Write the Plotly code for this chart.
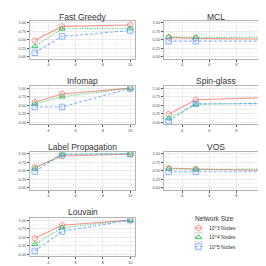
import plotly.graph_objects as go

W = H = 266
x_vals = [3, 5, 10]
panels = ["Fast Greedy", "MCL", "Infomap", "Spin-glass", "Label Propagation", "VOS", "Louvain"]
series_names = ["10^3 Nodes", "10^4 Nodes", "10^5 Nodes"]
legend_title = "Network Size"

fast_greedy = [[0.48, 0.89, 0.93], [0.31, 0.82, 0.83], [0.12, 0.60, 0.77]]
mcl = [[0.57, 0.54, 0.52], [0.58, 0.57, 0.57], [0.46, 0.46, 0.46]]
infomap = [[0.59, 0.83, 1.00], [0.54, 0.75, 1.00], [0.45, 0.45, 0.99]]
spin_glass = [[0.24, 0.66, 0.72], [0.12, 0.53, 0.56], [0.04, 0.54, 0.55]]
label_prop = [[0.60, 0.93, 0.98], [0.56, 0.98, 1.00], [0.48, 0.98, 0.99]]
vos = [[0.58, 0.55, 0.51], [0.56, 0.54, 0.55], [0.47, 0.47, 0.47]]
louvain = [[0.47, 0.85, 1.00], [0.30, 0.78, 1.00], [0.10, 0.67, 1.00]]
data = [fast_greedy, mcl, infomap, spin_glass, label_prop, vos, louvain]

x_ticks = [4, 6, 8, 10]
y_ticks = [0, 0.25, 0.5, 0.75, 1.0]
y_ticklabels = ["0.00", "0.25", "0.50", "0.75", "1.00"]

colors = ["rgba(248,118,109,0.75)", "rgba(0,186,56,0.75)", "rgba(97,156,255,0.75)"]
symbols = ["circle-open", "triangle-up-open", "square-open"]
dashes = ["solid", "1px,1.5px", "3px,2px"]

col_px = [(22, 127), (156, 260)]
row_px = [(12, 50), (78, 116), (144, 182), (211, 249)]
title_y = [8, 73, 139, 205]
FONT = "Liberation Sans"

fig = go.Figure()
annotations = []
shapes = []
for i, (name, vals) in enumerate(zip(panels, data)):
    r, c = divmod(i, 2)
    k = i + 1
    xa = "x" if k == 1 else f"x{k}"
    ya = "y" if k == 1 else f"y{k}"
    for s in range(3):
        fig.add_trace(go.Scatter(
            x=x_vals, y=vals[s], mode="lines+markers", name=series_names[s],
            showlegend=False,
            line=dict(color=colors[s], dash=dashes[s], width=1.1),
            marker=dict(symbol=symbols[s], size=5.5, color=colors[s], line=dict(width=1, color=colors[s])),
            xaxis=xa, yaxis=ya))
    x0, x1 = col_px[c]
    y0, y1 = row_px[r]
    axis_common = dict(showline=True, linecolor="#b3b3b3", linewidth=0.8, mirror=True,
                       gridcolor="#ebebeb", gridwidth=0.6, zeroline=False,
                       ticks="outside", ticklen=2, tickcolor="#555", tickwidth=0.6,
                       tickfont=dict(size=4, color="#4d4d4d", family=FONT))
    fig.layout[f"xaxis{'' if k == 1 else k}"] = dict(
        domain=[x0 / W, x1 / W], range=[2.65, 10.35], anchor=ya,
        tickvals=x_ticks, ticktext=[str(v) for v in x_ticks],
        minor=dict(tickvals=[3, 5, 7, 9], gridcolor="#f5f5f5", gridwidth=0.4, ticklen=0),
        **axis_common)
    fig.layout[f"yaxis{'' if k == 1 else k}"] = dict(
        domain=[1 - y1 / H, 1 - y0 / H], range=[-0.05, 1.05], anchor=xa,
        tickvals=y_ticks, ticktext=y_ticklabels,
        minor=dict(tickvals=[0.125, 0.375, 0.625, 0.875], gridcolor="#f5f5f5", gridwidth=0.4, ticklen=0),
        **axis_common)
    annotations.append(dict(text=name, x=(x0 + x1) / 2 / W, y=1 - title_y[r] / H,
                            xref="paper", yref="paper", showarrow=False,
                            font=dict(size=8.5, color="#333333", family=FONT),
                            xanchor="center", yanchor="middle"))

# legend drawn as a small keyed axis
lx0, lx1 = 186, 195
ly0, ly1 = 216, 244
key_y = [220.7, 230, 239.3]
for s in range(3):
    fig.add_trace(go.Scatter(
        x=[0.08, 0.92], y=[s, s], mode="lines", showlegend=False, hoverinfo="skip",
        line=dict(color=colors[s], dash=dashes[s], width=1.1), xaxis="x8", yaxis="y8"))
    fig.add_trace(go.Scatter(
        x=[0.5], y=[s], mode="markers", showlegend=False, hoverinfo="skip",
        marker=dict(symbol=symbols[s], size=5.5, color=colors[s], line=dict(width=1, color=colors[s])),
        xaxis="x8", yaxis="y8"))
    shapes.append(dict(type="rect", xref="x8", yref="y8", x0=0, x1=1, y0=s - 0.48, y1=s + 0.48,
                       line=dict(color="#d5d5d5", width=0.6), fillcolor="rgba(0,0,0,0)"))
    annotations.append(dict(text=series_names[s], x=199 / W, y=1 - key_y[s] / H, xref="paper", yref="paper",
                            showarrow=False, xanchor="left", yanchor="middle",
                            font=dict(size=5, color="#333333", family=FONT)))
annotations.append(dict(text=legend_title, x=185 / W, y=1 - 211 / H, xref="paper", yref="paper",
                        showarrow=False, xanchor="left", yanchor="middle",
                        font=dict(size=6.5, color="#333333", family=FONT)))
fig.layout["xaxis8"] = dict(domain=[lx0 / W, lx1 / W], range=[0, 1], visible=False, anchor="y8")
fig.layout["yaxis8"] = dict(domain=[1 - ly1 / H, 1 - ly0 / H], range=[2.5, -0.5], visible=False, anchor="x8")

fig.update_layout(
    width=W, height=H, margin=dict(l=0, r=0, t=0, b=0),
    paper_bgcolor="white", plot_bgcolor="white",
    annotations=annotations, shapes=shapes, showlegend=False,
)
fig.write_html("out.html")
